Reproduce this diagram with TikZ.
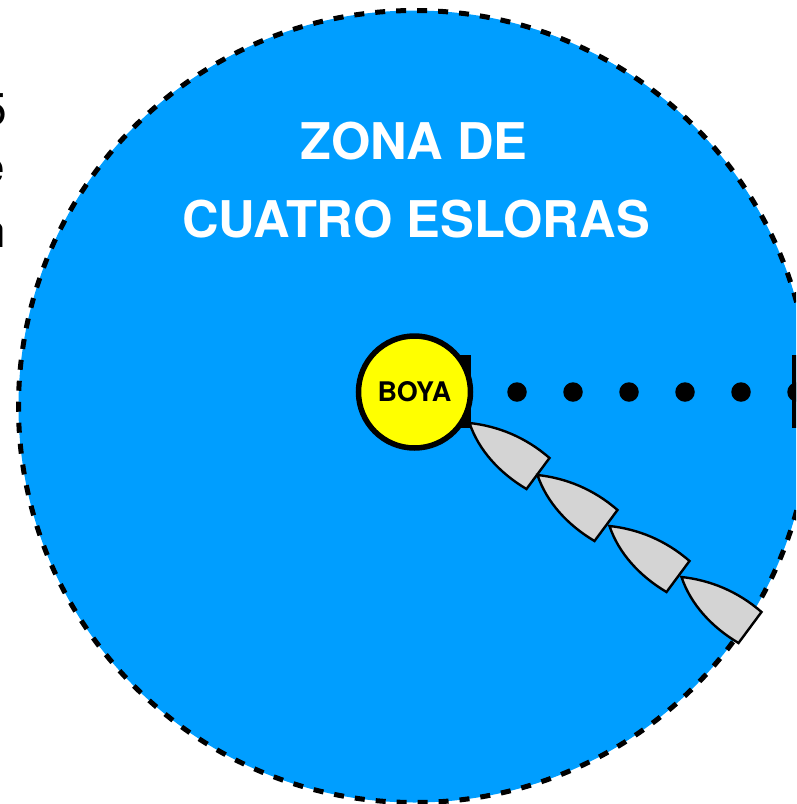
\documentclass[tikz,border=0pt]{standalone}
\usepackage{fontspec}
\setmainfont{TeX Gyre Heros}
\definecolor{zoneblue}{RGB}{0,158,255}
\definecolor{hullgray}{RGB}{212,212,212}
\definecolor{buoyyellow}{RGB}{255,255,0}
\tikzset{
  zone/.style={draw=black,fill=zoneblue,line width=5pt,dash pattern=on 10pt off 11pt},
  buoy/.style={circle,draw=black,fill=buoyyellow,line width=5.5pt,minimum size=112pt,inner sep=0pt,font=\fontsize{27}{31}\selectfont\bfseries},
  title/.style={text=white,font=\fontsize{50.6}{56}\selectfont\bfseries,inner sep=0pt},
  hull/.style={draw=black,fill=hullgray,line width=2.4pt,line join=miter},
  dotmark/.style={circle,fill=black,minimum size=19.5pt,inner sep=0pt},
  bar/.style={fill=black,draw=none},
  frag/.style={anchor=base east,font=\fontsize{46}{52}\selectfont,inner sep=0pt},
  pics/boat/.style={code={
    \draw[hull] (0,0) .. controls (28,3) and (56,14) .. (80,35) -- (57,66) .. controls (30,50) and (9,27) .. cycle;
  }}
}
\begin{document}
\begin{tikzpicture}[x=1pt,y=-1pt]
\useasboundingbox (0,0) rectangle (796,804);
\begin{scope}
\clip (0,0) rectangle (796,804);
\node[frag] (fa) at (7,125) {5};
\node[frag] (fb) at (5,183) {e};
\node[frag] (fc) at (6,247) {n};
\draw[zone] (414.5,406.5) circle (396);
\fill[bar] (460,355) rectangle (471,428);
\fill[bar] (792,355) rectangle (800,428);
\foreach \x/\n in {517/a,573/b,629/c,685/d,741/e,797/f}
  \node[dotmark] (dot\n) at (\x,392) {};
\pic at (469.5,423) {boat};
\pic at (537.5,475) {boat};
\pic at (609.5,526) {boat};
\pic at (681.5,577) {boat};
\node[buoy] (boya) at (414.5,392) {BOYA};
\node[title] (z1) at (414,141) {ZONA DE};
\node[title] (z2) at (416,219) {CUATRO ESLORAS};
\end{scope}
\end{tikzpicture}
\end{document}
